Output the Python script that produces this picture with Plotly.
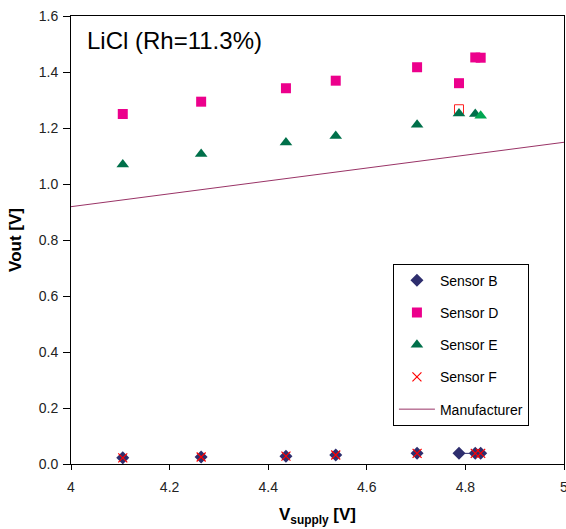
import plotly.graph_objects as go

vsupply = [4.105, 4.264, 4.436, 4.537, 4.702, 4.787, 4.820, 4.831]
sensor_b = [0.022, 0.025, 0.028, 0.032, 0.038, 0.038, 0.038, 0.038]
sensor_d = [1.250, 1.294, 1.342, 1.369, 1.417, 1.360, 1.452, 1.451]
sensor_e = [1.070, 1.107, 1.148, 1.171, 1.212, 1.252, 1.250, 1.244]
vsupply_f = [4.105, 4.264, 4.436, 4.537, 4.702, 4.820, 4.831]
sensor_f = [0.022, 0.025, 0.028, 0.032, 0.038, 0.038, 0.038]
outlier_x = [4.787]
outlier_y = [1.267]
manuf_x = [4.0, 5.0]
manuf_y = [0.919, 1.149]
e_colors = ["#00704A"] * 7 + ["#00A651"]

fig = go.Figure()
fig.add_trace(go.Scatter(x=vsupply[5:7], y=sensor_b[5:7], mode="lines",
                         line=dict(color="#2E2E6E", width=1), showlegend=False, hoverinfo="skip"))
fig.add_trace(go.Scatter(x=vsupply, y=sensor_b, mode="markers", name="Sensor B", legendgroup="b",
                         marker=dict(symbol="diamond", size=10, color="#2E2E6E")))
fig.add_trace(go.Scatter(x=vsupply, y=sensor_d, mode="markers", name="Sensor D", legendgroup="d",
                         marker=dict(symbol="square", size=10, color="#EC008C")))
fig.add_trace(go.Scatter(x=outlier_x, y=outlier_y, mode="markers", showlegend=False,
                         marker=dict(symbol="square-open", size=9, color="#FF2020", line=dict(width=1))))
fig.add_trace(go.Scatter(x=vsupply, y=sensor_e, mode="markers", name="Sensor E", legendgroup="e",
                         marker=dict(symbol="triangle-up", size=11, color=e_colors)))
fig.add_trace(go.Scatter(x=vsupply_f, y=sensor_f, mode="markers", name="Sensor F", legendgroup="f",
                         marker=dict(symbol="x-thin-open", size=9, color="#FF0000",
                                     line=dict(width=1.2, color="#FF0000"))))
fig.add_trace(go.Scatter(x=manuf_x, y=manuf_y, mode="lines", name="Manufacturer", legendgroup="m",
                         line=dict(color="#993366", width=1)))

fig.add_annotation(text="LiCl (Rh=11.3%)", xref="paper", yref="paper", x=0.028, y=0.945,
                   xanchor="left", yanchor="middle", showarrow=False,
                   font=dict(family="Arial, Liberation Sans", size=24, color="black"))

fig.update_layout(
    width=566, height=529,
    margin=dict(l=71, r=2, t=16, b=65),
    paper_bgcolor="white", plot_bgcolor="white",
    font=dict(family="Arial, Liberation Sans", size=14, color="#222222"),
    legend=dict(x=0.653, y=0.447, xanchor="left", yanchor="top",
                bordercolor="black", borderwidth=1, bgcolor="white", itemwidth=36,
                font=dict(size=14, color="black"), tracegroupgap=11),
    xaxis=dict(range=[4, 5], dtick=0.2, showgrid=False, zeroline=False, automargin=False,
               showline=True, linecolor="black", linewidth=1, mirror=True,
               ticks="outside", ticklen=5, tickcolor="black",
               ticklabelstandoff=5, ticklabeloverflow="allow",
               title=dict(text="<b>V<sub>supply</sub> [V]</b>", font=dict(size=17, color="black"), standoff=14)),
    yaxis=dict(range=[0, 1.6], dtick=0.2, tickformat=".1f", showgrid=False, zeroline=False, automargin=False,
               showline=True, linecolor="black", linewidth=1, mirror=True,
               ticks="outside", ticklen=7, tickcolor="black",
               ticklabelstandoff=2, ticklabeloverflow="allow",
               title=dict(text="<b>Vout [V]</b>", font=dict(size=17, color="black"), standoff=12)),
)

fig.write_html("out.html", config={"displayModeBar": False},
               post_script="document.body.style.margin='0';document.body.style.overflow='hidden';")
